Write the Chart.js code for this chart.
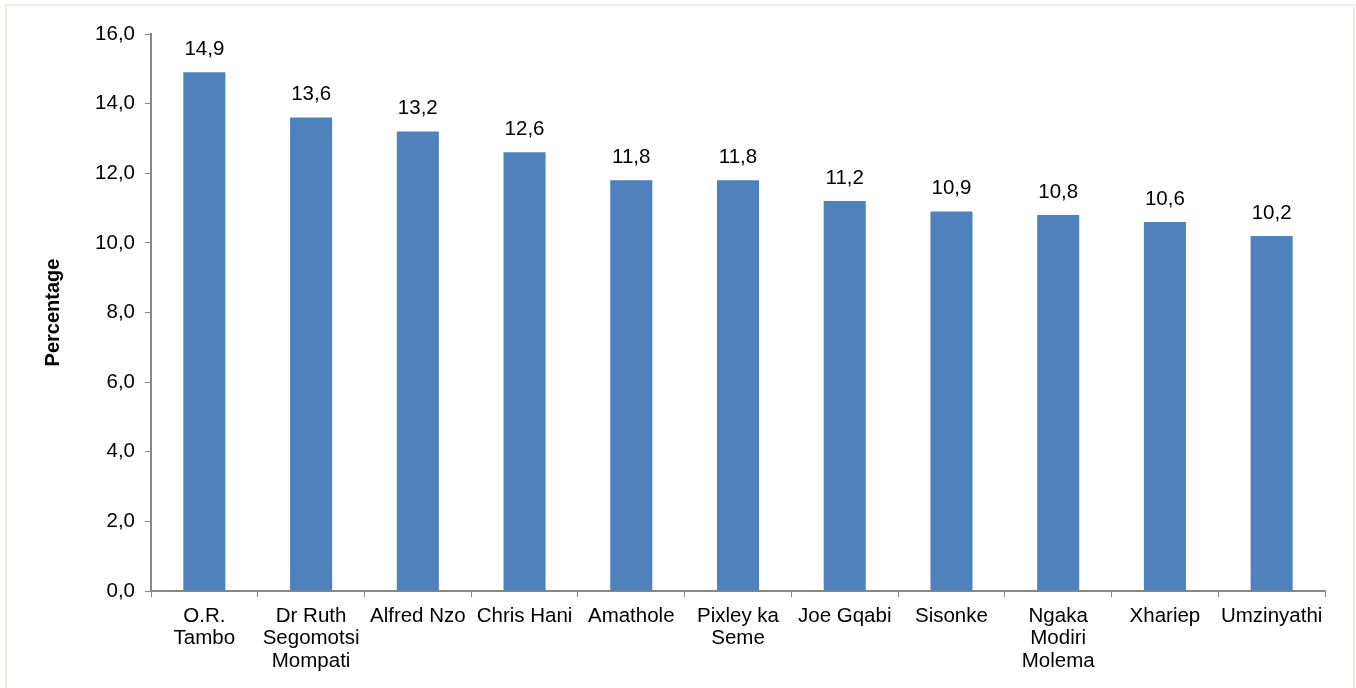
<!DOCTYPE html>
<html>
<head>
<meta charset="utf-8">
<script src="https://cdn.jsdelivr.net/npm/chart.js@4"></script>
<style>
    html, body { margin: 0; padding: 0; background: #fff; overflow: hidden; }
    #frame {
        position: absolute; left: 5px; top: 4px; width: 1350px; height: 720px;
        border: 2px solid #EEECE1; box-sizing: border-box;
    }
    #wrap { position: absolute; left: 0; top: 0; width: 1356px; height: 688px; }
</style>
</head>
<body>
<div id="frame"></div>
<div id="wrap"><canvas id="district-chart" width="1356" height="688"></canvas></div>
<script>
const districts = [
    ['O.R.', 'Tambo'],
    ['Dr Ruth', 'Segomotsi', 'Mompati'],
    'Alfred Nzo',
    'Chris Hani',
    'Amathole',
    ['Pixley ka', 'Seme'],
    'Joe Gqabi',
    'Sisonke',
    ['Ngaka', 'Modiri', 'Molema'],
    'Xhariep',
    'Umzinyathi',
];
const percentages = [14.9, 13.6, 13.2, 12.6, 11.8, 11.8, 11.2, 10.9, 10.8, 10.6, 10.2];
const yTicks = [0, 2, 4, 6, 8, 10, 12, 14, 16];

const FONT = '"Liberation Sans", Arial, sans-serif';
const TEXT_SIZE = 20.5;
const AXIS_GREY = '#868686';

const fmtComma = v => v.toFixed(1).replace('.', ',');

// value labels above each bar
const barLabels = {
    id: 'barLabels',
    afterDatasetsDraw(chart) {
        const ctx = chart.ctx;
        const meta = chart.getDatasetMeta(0);
        ctx.save();
        ctx.font = TEXT_SIZE + 'px ' + FONT;
        ctx.fillStyle = '#000';
        ctx.textAlign = 'center';
        ctx.textBaseline = 'middle';
        meta.data.forEach((bar, i) => {
            ctx.fillText(fmtComma(percentages[i]), bar.x, bar.y - 23);
        });
        ctx.restore();
    }
};

new Chart(document.getElementById('district-chart'), {
    type: 'bar',
    data: {
        labels: districts,
        datasets: [{
            data: percentages,
            backgroundColor: '#4F81BD',
            barPercentage: 0.394,
            categoryPercentage: 1.0,
        }],
    },
    options: {
        responsive: false,
        animation: false,
        layout: { padding: { left: 41, top: 34, right: 31, bottom: 0 } },
        plugins: {
            legend: { display: false },
            tooltip: { enabled: false },
        },
        scales: {
            x: {
                grid: {
                    offset: true,
                    drawOnChartArea: false,
                    drawTicks: true,
                    tickLength: 6,
                    color: AXIS_GREY,
                },
                border: { color: AXIS_GREY, width: 2 },
                ticks: {
                    color: '#000',
                    font: { family: FONT, size: TEXT_SIZE, lineHeight: 1.1 },
                    maxRotation: 0,
                    autoSkip: false,
                    padding: 8,
                },
                afterFit(scale) { scale.height = 97; },
            },
            y: {
                min: 0,
                max: 16,
                afterBuildTicks(scale) {
                    scale.ticks = yTicks.map(v => ({ value: v }));
                },
                grid: {
                    drawOnChartArea: false,
                    drawTicks: true,
                    tickLength: 6,
                    color: AXIS_GREY,
                },
                border: { color: AXIS_GREY, width: 2 },
                ticks: {
                    color: '#000',
                    font: { family: FONT, size: TEXT_SIZE },
                    padding: 10,
                    callback: v => fmtComma(v),
                },
                title: {
                    display: true,
                    text: 'Percentage',
                    color: '#000',
                    font: { family: FONT, size: 20, weight: 'bold' },
                    padding: { top: 0, bottom: 0 },
                },
                afterFit(scale) { scale.width = 110; },
            },
        },
    },
    plugins: [barLabels],
});
</script>
</body>
</html>
